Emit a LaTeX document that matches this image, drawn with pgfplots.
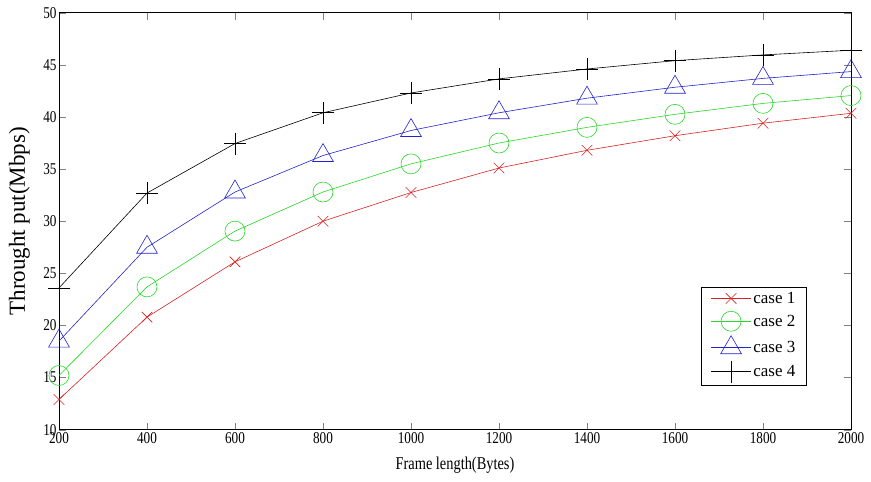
\documentclass[border=0pt]{standalone}
\usepackage{pgfplots}
\pgfplotsset{compat=1.18}
\usepackage{fontspec}
\setmainfont{Liberation Serif}
\newfontfamily\narrowserif[FakeStretch=0.8]{Liberation Serif}
\definecolor{caseone}{RGB}{215,35,35}
\definecolor{casetwo}{RGB}{40,215,40}
\definecolor{casethree}{RGB}{35,35,205}
\definecolor{casefour}{RGB}{0,0,0}

\begin{document}
\begin{tikzpicture}
\begin{axis}[
    scale only axis,
    width=792bp, height=417bp,
    xmin=200, xmax=2000, ymin=10, ymax=50,
    xtick={200,400,...,2000},
    ytick={10,15,...,50},
    tick align=inside,
    major tick length=7bp,
    axis line style={line width=0.8bp},
    /pgf/number format/assume math mode=true,
    /pgf/number format/1000 sep={},
    tick label style={font=\narrowserif\fontsize{16.5bp}{18bp}\selectfont},
    xticklabel style={yshift=1bp},
    yticklabel style={xshift=1bp},
    xlabel={Frame length(Bytes)},
    ylabel={Throught put(Mbps)},
    every axis x label/.style={at={(axis description cs:0.5,-0.084)},anchor=center,
        font=\narrowserif\fontsize{18bp}{20bp}\selectfont},
    every axis y label/.style={at={(axis description cs:-0.050,0.5)},rotate=90,anchor=center,
        font=\fontsize{23bp}{26bp}\selectfont},
    legend style={at={(0.944,0.105)}, anchor=south east, draw=black, line width=0.6bp,
        font=\fontsize{17bp}{19bp}\selectfont, cells={anchor=west}, row sep=4.5bp,
        inner xsep=9bp, inner ysep=3bp},
    legend image code/.code={\draw[mark repeat=2,mark phase=2] plot coordinates {(0bp,0bp) (20bp,0bp) (40bp,0bp)};},
    every axis plot/.append style={line width=0.6bp},
]
\addplot[color=caseone, mark=x, mark size=7.5bp] coordinates {
(200,12.9) (400,20.8) (600,26.1) (800,30.0) (1000,32.75) (1200,35.1) (1400,36.8) (1600,38.2) (1800,39.4) (2000,40.35)};
\addplot[color=casetwo, mark=o, mark size=10bp] coordinates {
(200,15.2) (400,23.7) (600,29.05) (800,32.8) (1000,35.5) (1200,37.5) (1400,39.0) (1600,40.25) (1800,41.3) (2000,42.05)};
\addplot[color=casethree, mark=triangle, mark size=12bp] coordinates {
(200,18.5) (400,27.5) (600,32.8) (800,36.3) (1000,38.7) (1200,40.4) (1400,41.8) (1600,42.85) (1800,43.7) (2000,44.35)};
\addplot[color=casefour, mark=+, mark size=11bp] coordinates {
(200,23.6) (400,32.7) (600,37.45) (800,40.4) (1000,42.3) (1200,43.65) (1400,44.6) (1600,45.4) (1800,45.95) (2000,46.4)};
\legend{case 1, case 2, case 3, case 4}
\end{axis}
\pgfresetboundingbox
\path (current axis.south west) ++(-59bp,-52bp) rectangle ([shift={(20bp,12.7bp)}]current axis.north east);
\end{tikzpicture}
\end{document}
